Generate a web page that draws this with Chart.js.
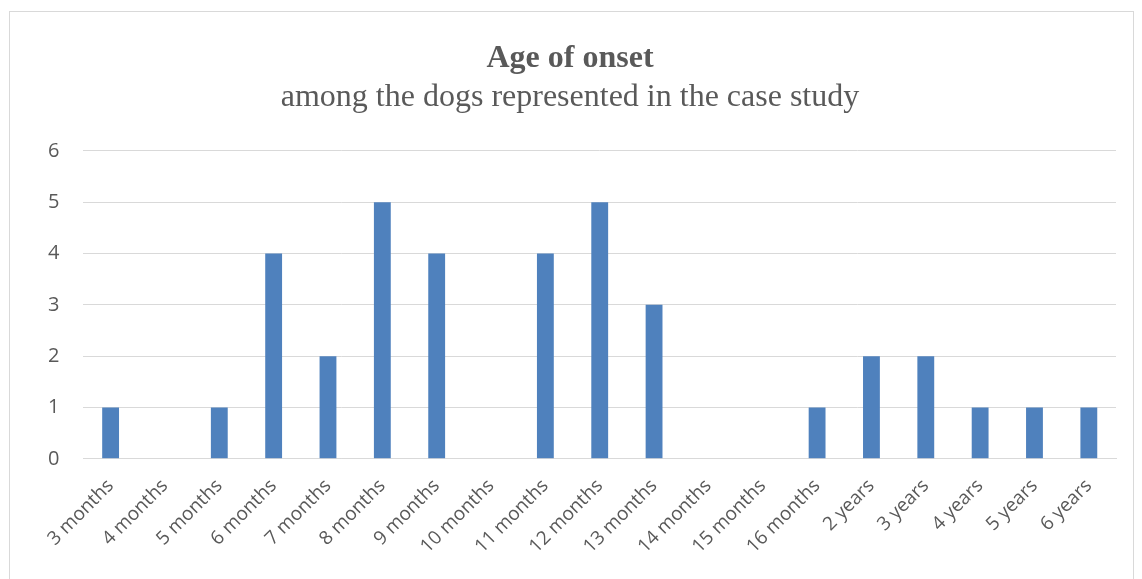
<!DOCTYPE html>
<html>
<head>
<meta charset="utf-8">
<script src="https://cdn.jsdelivr.net/npm/chart.js@4/dist/chart.umd.min.js"></script>
<style>
  html, body { margin: 0; padding: 0; background: #fff; }
  #frame {
    position: absolute; left: 9px; top: 11px;
    width: 1125px; height: 600px;
    border: 1px solid #d9d9d9; box-sizing: border-box;
  }
  #wrap { position: absolute; left: 0; top: 0; width: 1142px; height: 579px; }
</style>
</head>
<body>
<div id="frame"></div>
<div id="wrap"><canvas id="onsetChart"></canvas></div>
<script>
'use strict';

// Categories along the x axis
const ageLabels = [
  '3 months', '4 months', '5 months', '6 months', '7 months', '8 months',
  '9 months', '10 months', '11 months', '12 months', '13 months', '14 months',
  '15 months', '16 months', '2 years', '3 years', '4 years', '5 years', '6 years'
];

// Number of dogs per age of onset
const dogCounts = [1, 0, 1, 4, 2, 5, 4, 0, 4, 5, 3, 0, 0, 1, 2, 2, 1, 1, 1];

// Y axis ticks
const yTicks = [0, 1, 2, 3, 4, 5, 6];

const textGrey = '#595959';

const ctx = document.getElementById('onsetChart').getContext('2d');
const onsetChart = new Chart(ctx, {
  type: 'bar',
  data: {
    labels: ageLabels,
    datasets: [{
      label: 'Dogs',
      data: dogCounts,
      backgroundColor: '#4F81BD',
      borderWidth: 0,
      barPercentage: 0.31,
      categoryPercentage: 1
    }]
  },
  options: {
    responsive: true,
    maintainAspectRatio: false,
    animation: false,
    layout: { padding: { left: 24, right: 26, top: 40, bottom: 5 } },
    plugins: {
      legend: { display: false },
      tooltip: { enabled: false },
      title: {
        display: true,
        text: 'Age of onset',
        color: textGrey,
        font: { family: 'Liberation Serif', size: 32, weight: 'bold' },
        padding: { top: 0, bottom: 0 }
      },
      subtitle: {
        display: true,
        text: 'among the dogs represented in the case study',
        color: textGrey,
        font: { family: 'Liberation Serif', size: 32 },
        padding: { top: 0, bottom: 34 }
      }
    },
    scales: {
      x: {
        grid: { display: false, drawTicks: false },
        border: { color: '#d9d9d9', width: 1 },
        ticks: {
          color: textGrey,
          font: { family: 'Open Sans', size: 19 },
          minRotation: 45,
          maxRotation: 45,
          padding: 16
        }
      },
      y: {
        min: yTicks[0],
        max: yTicks[yTicks.length - 1],
        afterBuildTicks: axis => { axis.ticks = yTicks.map(v => ({ value: v })); },
        grid: { color: '#d9d9d9', drawTicks: false },
        border: { display: false },
        ticks: {
          color: textGrey,
          font: { family: 'Open Sans', size: 20 },
          padding: 24
        }
      }
    }
  }
});
</script>
</body>
</html>
